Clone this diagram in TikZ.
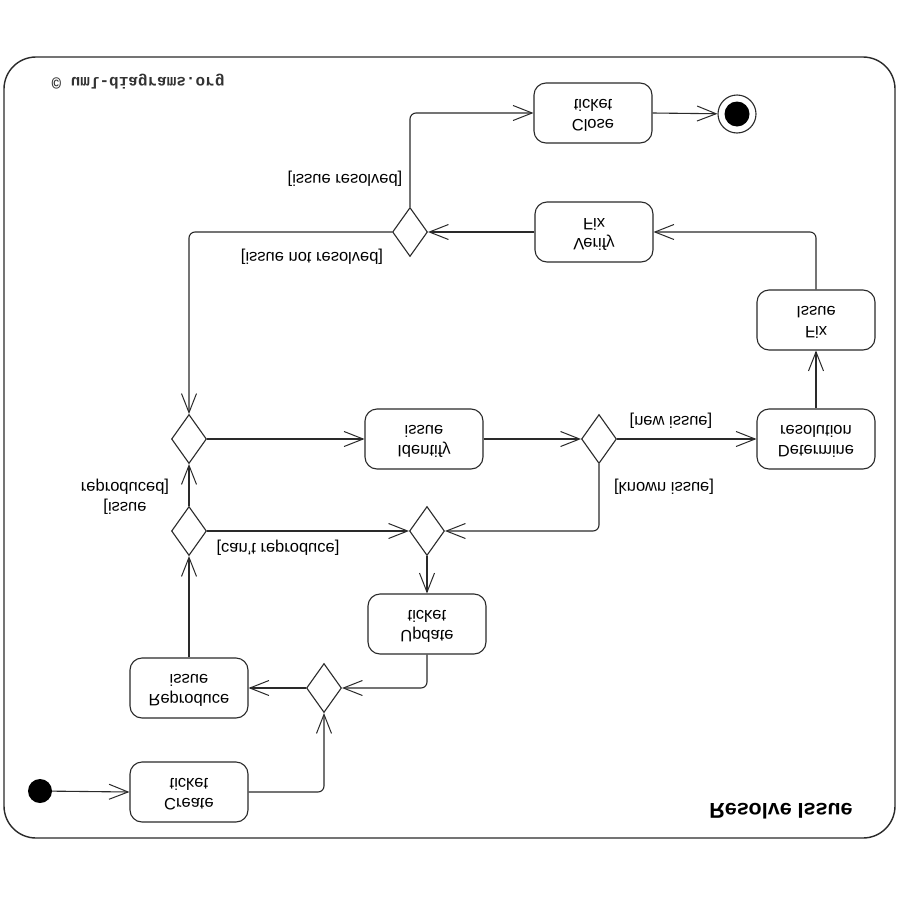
\documentclass[tikz,border=0pt]{standalone}
\usepackage{fontspec}
\setmainfont{Liberation Sans}
\newfontfamily\monof{Liberation Mono}
\usetikzlibrary{arrows.meta,shapes.geometric}
\newcommand\fl[1]{\scalebox{1}[-1]{\begin{tabular}{@{}c@{}}#1\end{tabular}}}
\definecolor{ln}{HTML}{2A2A2A}
\begin{document}
\begin{tikzpicture}[x=1pt,y=-1pt,
  act/.style={draw=ln, line width=1.1pt, rounded corners=12pt, minimum width=118pt, minimum height=60pt, inner sep=0pt, font=\fontsize{16.5}{20}\selectfont},
  dec/.style={draw=ln, diamond, line width=1.1pt, minimum width=35pt, minimum height=49pt, inner sep=0pt},
  flow/.style={draw=ln, line width=1.1pt, -{Straight Barb[length=19pt,width=15pt,line width=1pt]}, rounded corners=6pt},
  lbl/.style={font=\fontsize{16.5}{20}\selectfont, inner sep=0pt}]
\useasboundingbox (0,0) rectangle (900,900);
\fill[white] (0,0) rectangle (900,900);
% frame
\draw[ln, line width=1.4pt, rounded corners=32pt] (4,57) rectangle (895,838);
\node[font=\monof\bfseries\fontsize{16}{18}\selectfont, text=black!80, inner sep=0pt] (copy) at (138,82) {\scalebox{1}[-1]{© uml-diagrams.org}};
\node[font=\bfseries\fontsize{21.5}{24}\selectfont, inner sep=0pt] (title) at (781,811) {\scalebox{1}[-1]{Resolve Issue}};
% activities
\node[act] (close) at (593,113) {\fl{Close\\ticket}};
\node[act] (verify) at (594,232) {\fl{Verify\\Fix}};
\node[act] (fix) at (816,320) {\fl{Fix\\Issue}};
\node[act] (determine) at (816,439) {\fl{Determine\\resolution}};
\node[act] (identify) at (424,439) {\fl{Identify\\issue}};
\node[act] (update) at (427,624) {\fl{Update\\ticket}};
\node[act] (reproduce) at (189,688) {\fl{Reproduce\\issue}};
\node[act] (create) at (189,792) {\fl{Create\\ticket}};
% decisions
\node[dec] (dres) at (410,232) {};
\node[dec] (dnew) at (599,439) {};
\node[dec] (dtop) at (189,439) {};
\node[dec] (drep) at (189,531) {};
\node[dec] (dmid) at (427,531) {};
\node[dec] (dlow) at (324,688) {};
% initial / final
\node[circle, fill, minimum size=24pt, inner sep=0pt] (ini) at (40,791) {};
\node[circle, draw=ln, line width=1.1pt, minimum size=38pt, inner sep=0pt] (fin) at (737,114) {};
\fill (fin.center) circle (12.5pt);
% flows
\draw[flow] (ini) -- (create.west);
\draw[flow] (create.east) -| (dlow.south);
\draw[flow] (update.south) |- (dlow.east);
\draw[flow] (dlow.west) -- (reproduce.east);
\draw[flow] (reproduce.north) -- (drep.south);
\draw[flow] (drep.north) -- (dtop.south);
\draw[flow] (drep.east) -- (dmid.west);
\draw[flow] (dnew.south) |- (dmid.east);
\draw[flow] (dmid.south) -- (update.north);
\draw[flow] (dtop.east) -- (identify.west);
\draw[flow] (identify.east) -- (dnew.west);
\draw[flow] (dnew.east) -- (determine.west);
\draw[flow] (determine.north) -- (fix.south);
\draw[flow] (fix.north) |- (verify.east);
\draw[flow] (verify.west) -- (dres.east);
\draw[flow] (dres.north) |- (close.west);
\draw[flow] (dres.west) -| (dtop.north);
\draw[flow] (close.east) -- (fin);
% guards
\node[lbl] (g1) at (345,178) {\fl{[issue resolved]}};
\node[lbl] (g2) at (312,256) {\fl{[issue not resolved]}};
\node[lbl] (g3) at (671,420) {\fl{[new issue]}};
\node[lbl] (g4) at (664,486) {\fl{[known issue]}};
\node[lbl] (g5) at (278,547) {\fl{[can't reproduce]}};
\node[lbl] (g6) at (125,496) {\fl{[issue\\reproduced]}};
\end{tikzpicture}
\end{document}
